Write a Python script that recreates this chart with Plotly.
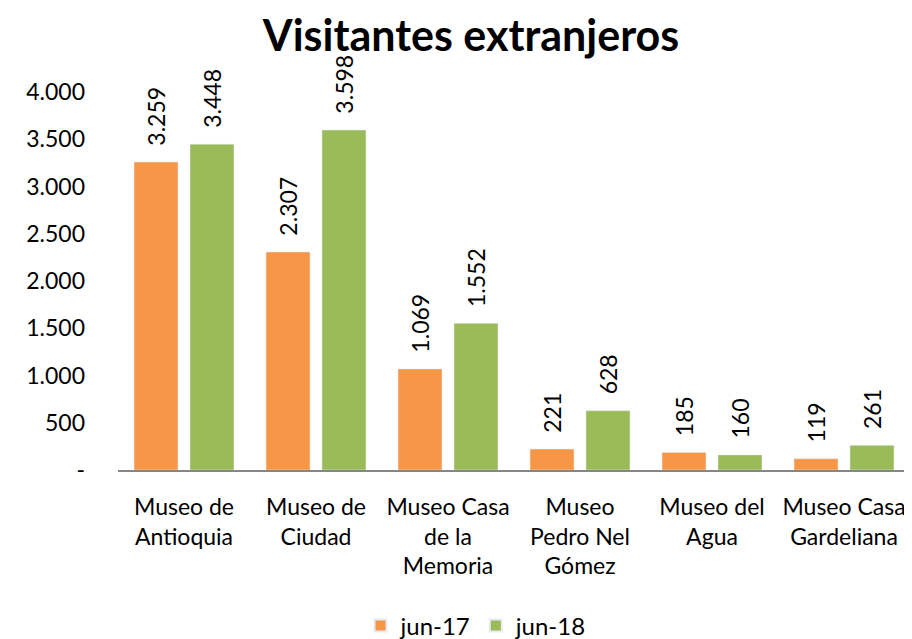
import plotly.graph_objects as go

categories = ["Museo de<br>Antioquia", "Museo de<br>Ciudad", "Museo Casa<br>de la<br>Memoria",
              "Museo<br>Pedro Nel<br>Gómez", "Museo del<br>Agua", "Museo Casa<br>Gardeliana"]
jun17 = [3259, 2307, 1069, 221, 185, 119]
jun18 = [3448, 3598, 1552, 628, 160, 261]
tick_vals = [0, 500, 1000, 1500, 2000, 2500, 3000, 3500, 4000]
tick_text = ["-", "500", "1.000", "1.500", "2.000", "2.500", "3.000", "3.500", "4.000"]

FONT = "Lato, Liberation Sans, sans-serif"
OFF = 8  # page body margin in the browser
W, H = 912 - OFF, 639 - OFF
# reference pixel positions (window coords) converted to figure coords
L = 118 - OFF
T = 92 - OFF
R = 912 - 910
B = 639 - 470
PW, PH = W - L - R, H - T - B

fig = go.Figure()
for name, vals, col in [("jun-17", jun17, "#F79646"), ("jun-18", jun18, "#9BBB59")]:
    fig.add_trace(go.Bar(name=name, x=categories, y=vals, marker_color=col,
                         texttemplate="\u2007%{y:,.0f}", textposition="outside", textangle=-90,
                         constraintext="none", cliponaxis=False,
                         textfont=dict(size=23, color="black", family=FONT)))

fig.update_layout(
    width=W, height=H,
    margin=dict(l=L, r=R, t=T, b=B, autoexpand=False),
    paper_bgcolor="white", plot_bgcolor="white",
    separators=",.",
    barmode="group", bargap=0.152, bargroupgap=0.214,
    title=dict(text="<b>Visitantes extranjeros</b>", x=(471 - OFF) / W, xanchor="center",
               y=1 - (36 - OFF) / H, yanchor="middle", yref="container",
               font=dict(size=43, color="black", family=FONT)),
    font=dict(family=FONT, color="black"),
    xaxis=dict(showline=True, linecolor="#868686", linewidth=2, showgrid=False,
               tickfont=dict(size=23, color="black", family=FONT), ticks="",
               tickangle=0, ticklabelstandoff=15, automargin=False),
    yaxis=dict(range=[0, 4000], tickvals=tick_vals, ticktext=tick_text, showgrid=False,
               zeroline=False, showline=False, ticks="", automargin=False,
               tickfont=dict(size=23, color="black", family=FONT), ticklabelstandoff=32),
    legend=dict(orientation="h", x=(476 - 118) / PW, xanchor="center",
                y=-(626 - 470) / PH, yanchor="middle",
                font=dict(size=24, color="black", family=FONT), itemsizing="constant"),
    showlegend=True,
)

fig.write_html("out.html")
